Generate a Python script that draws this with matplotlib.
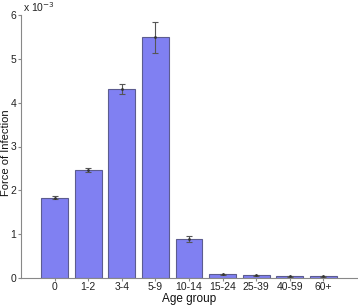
import matplotlib
matplotlib.use('Agg')
import matplotlib.pyplot as plt
import numpy as np

plt.rcParams['font.family'] = ['Liberation Sans', 'DejaVu Sans']

# values (units of 1e-3)
age_groups = ['0', '1-2', '3-4', '5-9', '10-14', '15-24', '25-39', '40-59', '60+']
foi = [1.83, 2.47, 4.31, 5.49, 0.89, 0.08, 0.06, 0.04, 0.04]
foi_err = [0.03, 0.05, 0.12, 0.36, 0.07, 0.015, 0.015, 0.012, 0.012]

fig = plt.figure(figsize=(3.58, 3.05), dpi=100)
ax = fig.add_axes([21 / 358, 27 / 305, 336 / 358, 263 / 305])

x = np.arange(1, len(age_groups) + 1)
ax.bar(x, foi, width=0.8, color='#8080f2', edgecolor='#5c5c90', linewidth=0.8)
ax.errorbar(x, foi, yerr=foi_err, fmt='.', color='#333333', markersize=2,
            ecolor='#555555', elinewidth=0.8, capsize=2.5, capthick=0.8)

ax.set_xlim(0, 10)
ax.set_ylim(0, 6)
ax.set_xticks(x)
ax.set_xticklabels(age_groups)
ax.set_yticks(range(7))
ax.tick_params(direction='out', labelsize=7.5, length=2, pad=1.5,
               colors='#888888', labelcolor='#222222')
ax.tick_params(axis='x', pad=1)
for s in ['top', 'right']:
    ax.spines[s].set_visible(False)
for s in ['left', 'bottom']:
    ax.spines[s].set_color('#888888')

fig.text(189 / 358, 1 - 302 / 305, 'Age group', fontsize=8.5, ha='center',
         va='baseline', color='#111111')
fig.text(6 / 358, 1 - 153 / 305, 'Force of Infection', fontsize=8,
         rotation=90, ha='center', va='center', color='#111111')
ax.text(0.005, 1.005, r'x 10$^{-3}$', transform=ax.transAxes, fontsize=7.5,
        ha='left', va='bottom', color='#222222')

fig.savefig('out.png', dpi=100)
